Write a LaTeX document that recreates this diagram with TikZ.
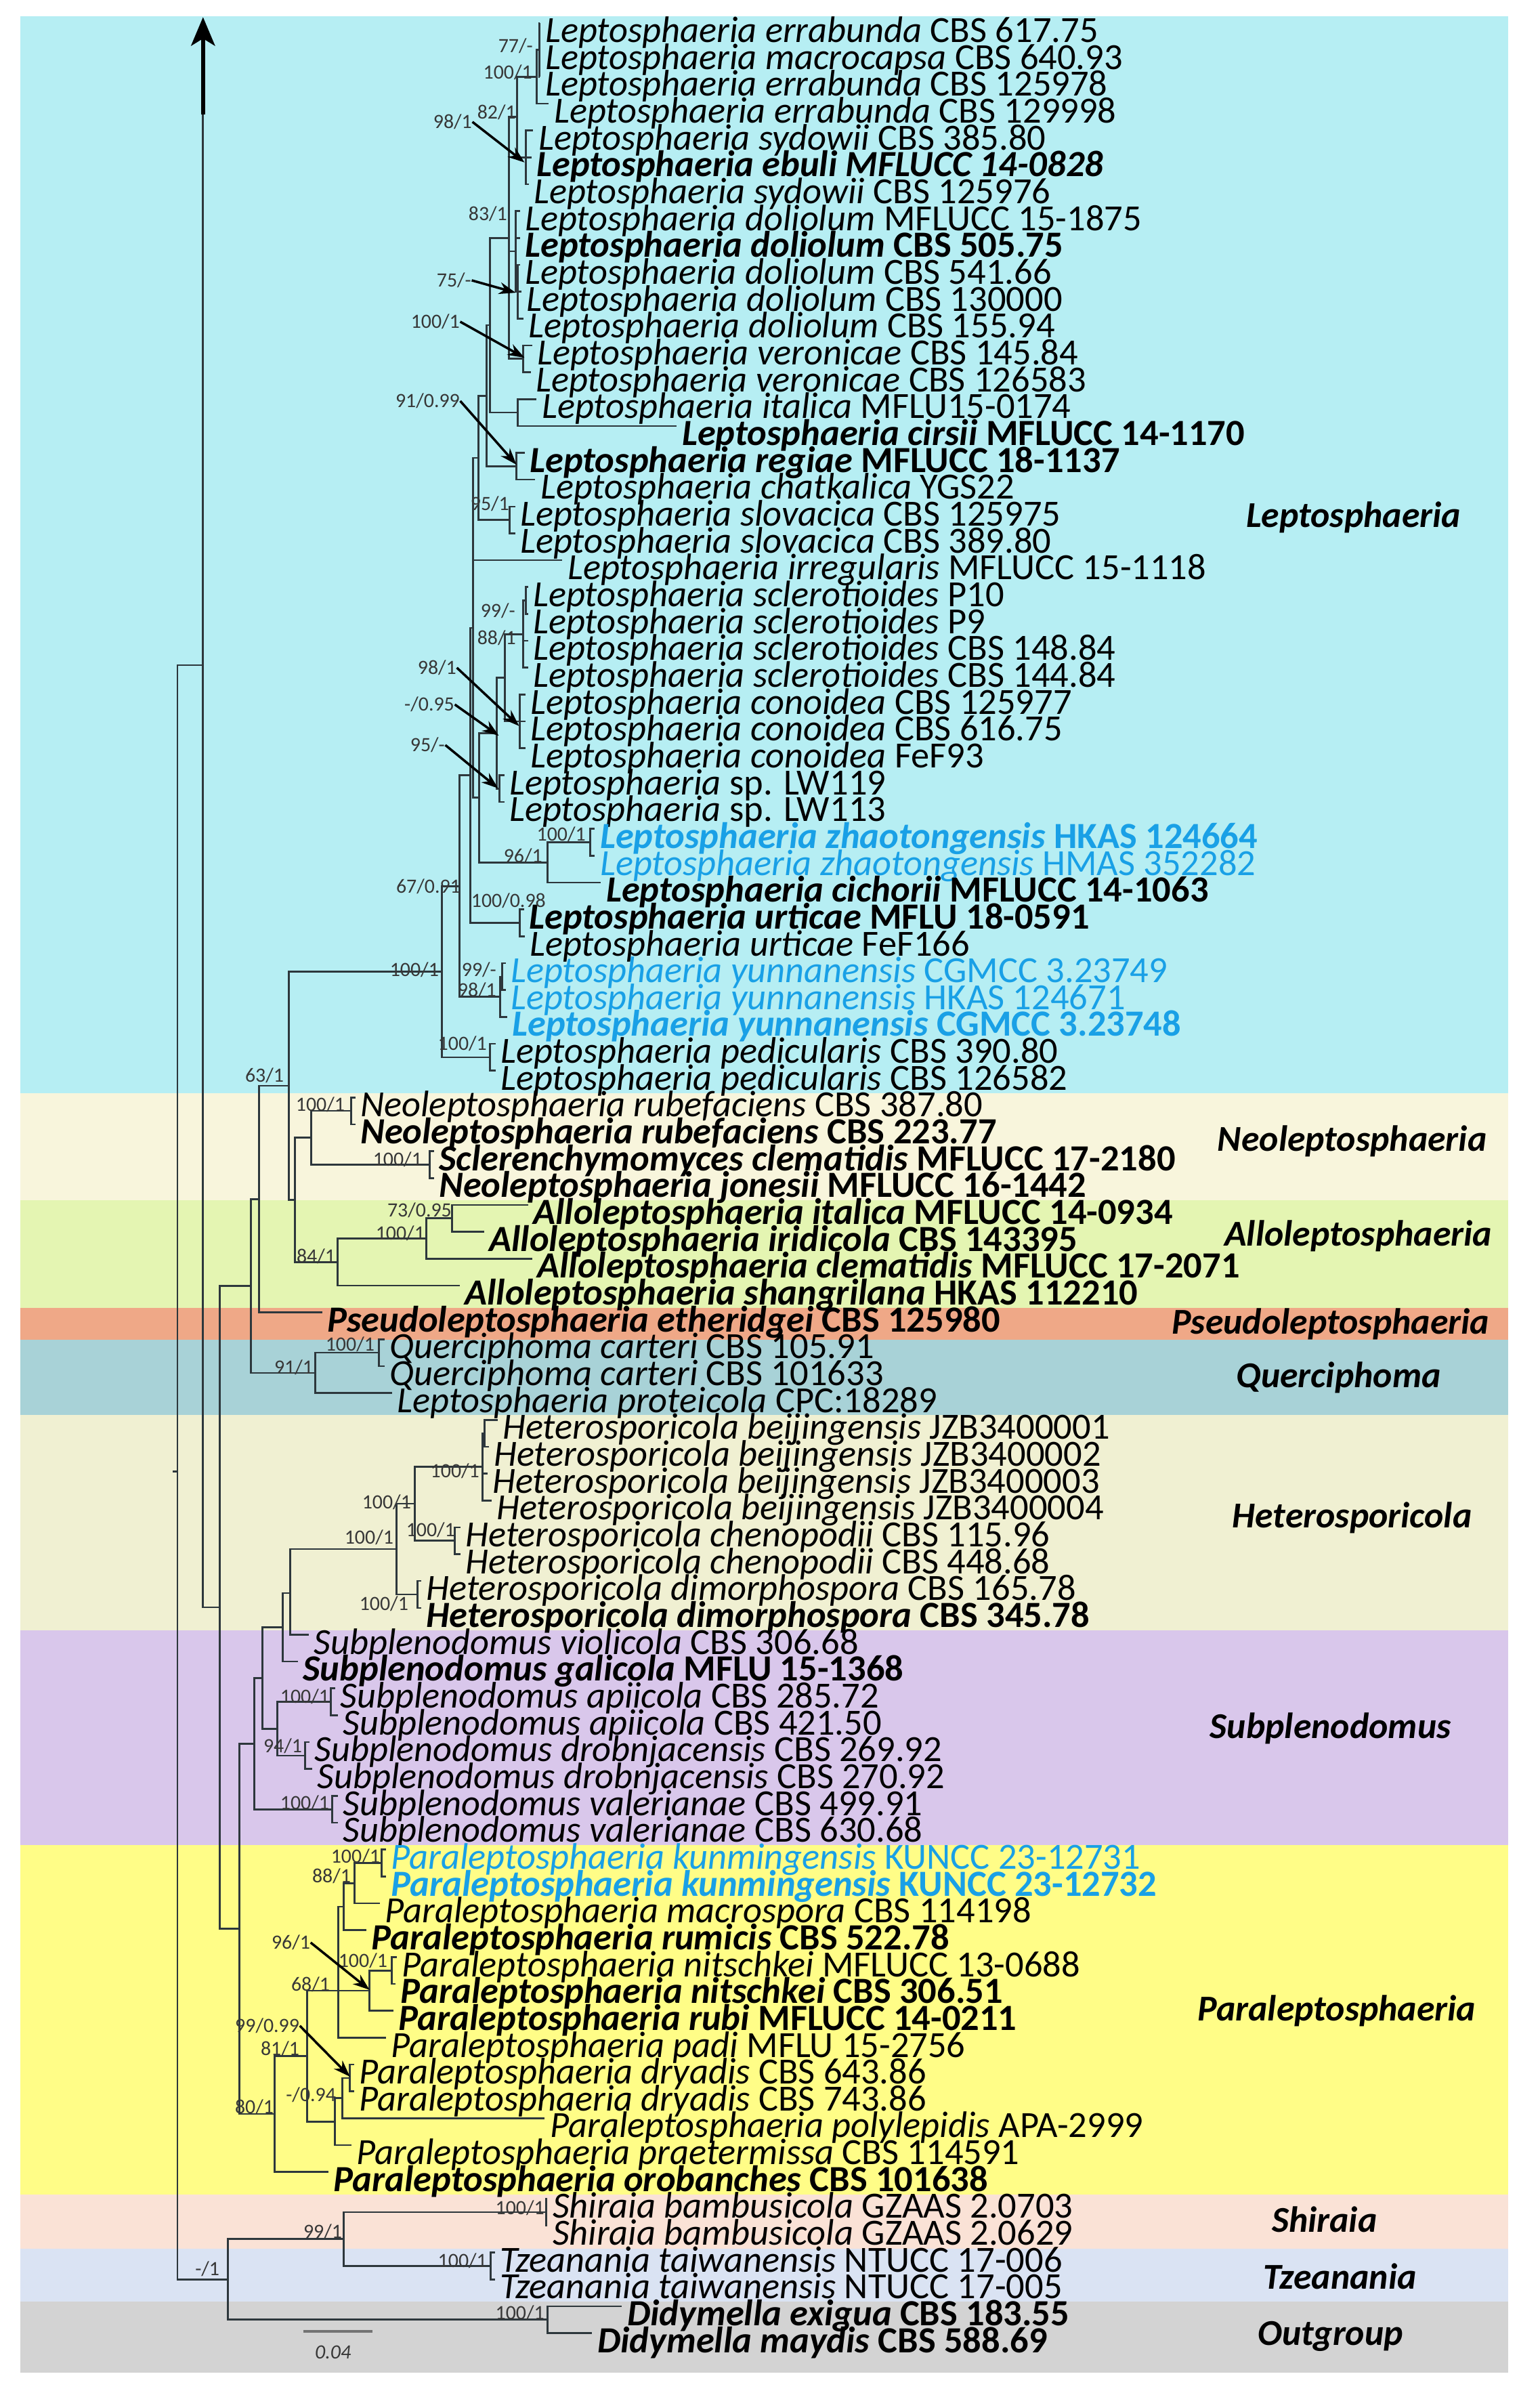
\documentclass[tikz,border=0pt]{standalone}
\usepackage{fontspec}
\setmainfont{Carlito}
\usetikzlibrary{arrows.meta}

\definecolor{cLep}{RGB}{182,238,243}
\definecolor{cNeo}{RGB}{248,245,220}
\definecolor{cAllo}{RGB}{228,245,178}
\definecolor{cPseudo}{RGB}{239,168,135}
\definecolor{cQuerc}{RGB}{168,210,215}
\definecolor{cHet}{RGB}{240,240,210}
\definecolor{cSub}{RGB}{217,199,235}
\definecolor{cPara}{RGB}{255,253,135}
\definecolor{cShi}{RGB}{250,226,214}
\definecolor{cTze}{RGB}{218,227,243}
\definecolor{cOut}{RGB}{211,211,211}
\definecolor{treeline}{RGB}{45,55,60}
\definecolor{newsp}{RGB}{25,160,230}
\definecolor{suptext}{RGB}{55,55,55}

\newcommand{\tx}[2]{\textit{#1} #2}

\tikzset{
  branch/.style={draw=treeline, line width=0.75pt},
  taxon/.style={anchor=west, inner xsep=2pt, inner ysep=0pt, text height=16.3pt, text depth=0pt, font=\fontsize{15.5}{15.5}\selectfont},
  taxonb/.style={taxon, font=\fontsize{15.5}{15.5}\selectfont\bfseries},
  novel/.style={taxon, text=newsp},
  novelb/.style={taxonb, text=newsp},
  sup/.style={anchor=east, inner sep=0pt, font=\fontsize{8.5}{8.5}\selectfont, text=suptext},
  pointer/.style={draw=black, line width=1pt, -{Stealth[length=7pt,width=5pt]}},
  clade/.style={font=\fontsize{15.3}{15.3}\selectfont\bfseries\itshape},
}

\begin{document}
\begin{tikzpicture}[x=0.01cm, y=-0.3966cm]
\useasboundingbox (0,0.1427) rectangle (2275,89.23);

% Clade bands
\foreach \top/\bot/\col in {0.75/40.83/cLep, 40.83/44.83/cNeo, 44.83/48.83/cAllo, 48.83/50.02/cPseudo,
  50.02/52.83/cQuerc, 52.83/60.83/cHet, 60.83/68.83/cSub, 68.83/81.85/cPara, 81.85/83.85/cShi,
  83.85/85.82/cTze, 85.82/88.47/cOut}
  \fill[\col] (30,\top) rectangle (2228,\bot);

% Clade names
\node[clade] (gLep) at (2000,19.41) {Leptosphaeria};
\node[clade] (gNeo) at (1998,42.63) {Neoleptosphaeria};
\node[clade] (gAllo) at (2007,46.16) {Alloleptosphaeria};
\node[clade] (gPseudo) at (1966,49.44) {Pseudoleptosphaeria};
\node[clade] (gQuerc) at (1978,51.43) {Querciphoma};
\node[clade] (gHet) at (1998,56.65) {Heterosporicola};
\node[clade] (gSub) at (1966,64.49) {Subplenodomus};
\node[clade] (gPara) at (1975,75.0) {Paraleptosphaeria};
\node[clade] (gShi) at (1957,82.77) {Shiraia};
\node[clade] (gTze) at (1980,84.89) {Tzeanania};
\node[clade] (gOut) at (1966,87.11) {Outgroup};

% Taxa
\node[taxon] (t1) at (798,1) {\tx{Leptosphaeria errabunda}{CBS 617.75}};
\node[taxon] (t2) at (798,2) {\tx{Leptosphaeria macrocapsa}{CBS 640.93}};
\node[taxon] (t3) at (798,3) {\tx{Leptosphaeria errabunda}{CBS 125978}};
\node[taxon] (t4) at (811,4) {\tx{Leptosphaeria errabunda}{CBS 129998}};
\node[taxon] (t5) at (788,5) {\tx{Leptosphaeria sydowii}{CBS 385.80}};
\node[taxonb] (t6) at (785,6) {\textit{Leptosphaeria ebuli MFLUCC 14-0828}};
\node[taxon] (t7) at (781,7) {\tx{Leptosphaeria sydowii}{CBS 125976}};
\node[taxon] (t8) at (768,8) {\tx{Leptosphaeria doliolum}{MFLUCC 15-1875}};
\node[taxonb] (t9) at (768,9) {\tx{Leptosphaeria doliolum}{CBS 505.75}};
\node[taxon] (t10) at (768,10) {\tx{Leptosphaeria doliolum}{CBS 541.66}};
\node[taxon] (t11) at (770,11) {\tx{Leptosphaeria doliolum}{CBS 130000}};
\node[taxon] (t12) at (773,12) {\tx{Leptosphaeria doliolum}{CBS 155.94}};
\node[taxon] (t13) at (786,13) {\tx{Leptosphaeria veronicae}{CBS 145.84}};
\node[taxon] (t14) at (784,14) {\tx{Leptosphaeria veronicae}{CBS 126583}};
\node[taxon] (t15) at (793,15) {\tx{Leptosphaeria italica}{MFLU15-0174}};
\node[taxonb] (t16) at (1000,16) {\tx{Leptosphaeria cirsii}{MFLUCC 14-1170}};
\node[taxonb] (t17) at (775,17) {\tx{Leptosphaeria regiae}{MFLUCC 18-1137}};
\node[taxon] (t18) at (791,18) {\tx{Leptosphaeria chatkalica}{YGS22}};
\node[taxon] (t19) at (761,19) {\tx{Leptosphaeria slovacica}{CBS 125975}};
\node[taxon] (t20) at (761,20) {\tx{Leptosphaeria slovacica}{CBS 389.80}};
\node[taxon] (t21) at (831,21) {\tx{Leptosphaeria irregularis}{MFLUCC 15-1118}};
\node[taxon] (t22) at (780,22) {\tx{Leptosphaeria sclerotioides}{P10}};
\node[taxon] (t23) at (780,23) {\tx{Leptosphaeria sclerotioides}{P9}};
\node[taxon] (t24) at (780,24) {\tx{Leptosphaeria sclerotioides}{CBS 148.84}};
\node[taxon] (t25) at (780,25) {\tx{Leptosphaeria sclerotioides}{CBS 144.84}};
\node[taxon] (t26) at (776,26) {\tx{Leptosphaeria conoidea}{CBS 125977}};
\node[taxon] (t27) at (776,27) {\tx{Leptosphaeria conoidea}{CBS 616.75}};
\node[taxon] (t28) at (776,28) {\tx{Leptosphaeria conoidea}{FeF93}};
\node[taxon] (t29) at (745,29) {\tx{Leptosphaeria}{sp. LW119}};
\node[taxon] (t30) at (745,30) {\tx{Leptosphaeria}{sp. LW113}};
\node[novelb] (t31) at (879,31) {\tx{Leptosphaeria zhaotongensis}{HKAS 124664}};
\node[novel] (t32) at (879,32) {\tx{Leptosphaeria zhaotongensis}{HMAS 352282}};
\node[taxonb] (t33) at (888,33) {\tx{Leptosphaeria cichorii}{MFLUCC 14-1063}};
\node[taxonb] (t34) at (774,34) {\tx{Leptosphaeria urticae}{MFLU 18-0591}};
\node[taxon] (t35) at (775,35) {\tx{Leptosphaeria urticae}{FeF166}};
\node[novel] (t36) at (747,36) {\tx{Leptosphaeria yunnanensis}{CGMCC 3.23749}};
\node[novel] (t37) at (747,37) {\tx{Leptosphaeria yunnanensis}{HKAS 124671}};
\node[novelb] (t38) at (749,38) {\tx{Leptosphaeria yunnanensis}{CGMCC 3.23748}};
\node[taxon] (t39) at (732,39) {\tx{Leptosphaeria pedicularis}{CBS 390.80}};
\node[taxon] (t40) at (732,40) {\tx{Leptosphaeria pedicularis}{CBS 126582}};
\node[taxon] (t41) at (525,41) {\tx{Neoleptosphaeria rubefaciens}{CBS 387.80}};
\node[taxonb] (t42) at (525,42) {\tx{Neoleptosphaeria rubefaciens}{CBS 223.77}};
\node[taxonb] (t43) at (641,43) {\tx{Sclerenchymomyces clematidis}{MFLUCC 17-2180}};
\node[taxonb] (t44) at (641,44) {\tx{Neoleptosphaeria jonesii}{MFLUCC 16-1442}};
\node[taxonb] (t45) at (780,45) {\tx{Alloleptosphaeria italica}{MFLUCC 14-0934}};
\node[taxonb] (t46) at (715,46) {\tx{Alloleptosphaeria iridicola}{CBS 143395}};
\node[taxonb] (t47) at (786,47) {\tx{Alloleptosphaeria clematidis}{MFLUCC 17-2071}};
\node[taxonb] (t48) at (679,48) {\tx{Alloleptosphaeria shangrilana}{HKAS 112210}};
\node[taxonb] (t49) at (476,49) {\tx{Pseudoleptosphaeria etheridgei}{CBS 125980}};
\node[taxon] (t50) at (568,50) {\tx{Querciphoma carteri}{CBS 105.91}};
\node[taxon] (t51) at (568,51) {\tx{Querciphoma carteri}{CBS 101633}};
\node[taxon] (t52) at (579,52) {\tx{Leptosphaeria proteicola}{CPC:18289}};
\node[taxon] (t53) at (735,53) {\tx{Heterosporicola beijingensis}{JZB3400001}};
\node[taxon] (t54) at (722,54) {\tx{Heterosporicola beijingensis}{JZB3400002}};
\node[taxon] (t55) at (720,55) {\tx{Heterosporicola beijingensis}{JZB3400003}};
\node[taxon] (t56) at (726,56) {\tx{Heterosporicola beijingensis}{JZB3400004}};
\node[taxon] (t57) at (680,57) {\tx{Heterosporicola chenopodii}{CBS 115.96}};
\node[taxon] (t58) at (680,58) {\tx{Heterosporicola chenopodii}{CBS 448.68}};
\node[taxon] (t59) at (622,59) {\tx{Heterosporicola dimorphospora}{CBS 165.78}};
\node[taxonb] (t60) at (622,60) {\tx{Heterosporicola dimorphospora}{CBS 345.78}};
\node[taxon] (t61) at (456,61) {\tx{Subplenodomus violicola}{CBS 306.68}};
\node[taxonb] (t62) at (440,62) {\tx{Subplenodomus galicola}{MFLU 15-1368}};
\node[taxon] (t63) at (495,63) {\tx{Subplenodomus apiicola}{CBS 285.72}};
\node[taxon] (t64) at (499,64) {\tx{Subplenodomus apiicola}{CBS 421.50}};
\node[taxon] (t65) at (457,65) {\tx{Subplenodomus drobnjacensis}{CBS 269.92}};
\node[taxon] (t66) at (461,66) {\tx{Subplenodomus drobnjacensis}{CBS 270.92}};
\node[taxon] (t67) at (499,67) {\tx{Subplenodomus valerianae}{CBS 499.91}};
\node[taxon] (t68) at (499,68) {\tx{Subplenodomus valerianae}{CBS 630.68}};
\node[novel] (t69) at (570,69) {\tx{Paraleptosphaeria kunmingensis}{KUNCC 23-12731}};
\node[novelb] (t70) at (570,70) {\tx{Paraleptosphaeria kunmingensis}{KUNCC 23-12732}};
\node[taxon] (t71) at (561,71) {\tx{Paraleptosphaeria macrospora}{CBS 114198}};
\node[taxonb] (t72) at (541,72) {\tx{Paraleptosphaeria rumicis}{CBS 522.78}};
\node[taxon] (t73) at (586,73) {\tx{Paraleptosphaeria nitschkei}{MFLUCC 13-0688}};
\node[taxonb] (t74) at (584,74) {\tx{Paraleptosphaeria nitschkei}{CBS 306.51}};
\node[taxonb] (t75) at (581,75) {\tx{Paraleptosphaeria rubi}{MFLUCC 14-0211}};
\node[taxon] (t76) at (570,76) {\tx{Paraleptosphaeria padi}{MFLU 15-2756}};
\node[taxon] (t77) at (523,77) {\tx{Paraleptosphaeria dryadis}{CBS 643.86}};
\node[taxon] (t78) at (523,78) {\tx{Paraleptosphaeria dryadis}{CBS 743.86}};
\node[taxon] (t79) at (805,79) {\tx{Paraleptosphaeria polylepidis}{APA-2999}};
\node[taxon] (t80) at (519,80) {\tx{Paraleptosphaeria praetermissa}{CBS 114591}};
\node[taxonb] (t81) at (485,81) {\tx{Paraleptosphaeria orobanches}{CBS 101638}};
\node[taxon] (t82) at (809,82) {\tx{Shiraia bambusicola}{GZAAS 2.0703}};
\node[taxon] (t83) at (809,83) {\tx{Shiraia bambusicola}{GZAAS 2.0629}};
\node[taxon] (t84) at (731,84) {\tx{Tzeanania taiwanensis}{NTUCC 17-006}};
\node[taxon] (t85) at (731,85) {\tx{Tzeanania taiwanensis}{NTUCC 17-005}};
\node[taxonb] (t86) at (919,86) {\tx{Didymella exigua}{CBS 183.55}};
\node[taxonb] (t87) at (875,87) {\tx{Didymella maydis}{CBS 588.69}};

% Internal nodes (x in px, y in rows)
\coordinate (n77) at (797,2);      \coordinate (nE100) at (793,3);
\coordinate (n98a) at (777,6);     \coordinate (n82) at (764,4.5);
\coordinate (n75) at (765,11);     \coordinate (nDol) at (762,9.5);
\coordinate (nVer) at (773,13.5);  \coordinate (n83) at (752,9);
\coordinate (nCir) at (765,15.5);  \coordinate (n725) at (724,12.25);
\coordinate (nReg) at (763,17.5);  \coordinate (n720) at (719,14.875);
\coordinate (nSlo) at (753,19.5);  \coordinate (n707) at (707,17.19);
\coordinate (n99s) at (777,22.5);  \coordinate (n88) at (773,23.75);
\coordinate (nCon) at (768,27);    \coordinate (n746) at (746,25.375);
\coordinate (nLW) at (738,29.5);   \coordinate (n734) at (734,27.44);
\coordinate (nZh) at (872,31.5);   \coordinate (n96) at (809,32.25);
\coordinate (n708) at (708,29.84); \coordinate (nA) at (699,23.52);
\coordinate (nUrt) at (768,34.5);  \coordinate (nB) at (695,29.01);
\coordinate (nY99) at (742,36.5);  \coordinate (nY98) at (739,37.25);
\coordinate (n679) at (679,33.13); \coordinate (nPed) at (724,39.5);
\coordinate (nLep) at (653,36.31);
\coordinate (nRub) at (519,41.5);  \coordinate (nScl) at (635,43.5);
\coordinate (nNeo) at (460,42.5);  \coordinate (n73) at (668,45.5);
\coordinate (nAl100) at (630,46.25); \coordinate (nAllo) at (499,47.125);
\coordinate (nB436) at (436,44.81); \coordinate (nA427) at (427,40.56);
\coordinate (n383) at (383,44.78); \coordinate (nQc) at (560,50.5);
\coordinate (nQue) at (466,51.25); \coordinate (n371) at (371,48.01);
\coordinate (nBei2) at (716,53.5); \coordinate (nBei) at (713,54.75);
\coordinate (nChe) at (672,57.5);  \coordinate (nHet2) at (613,56.125);
\coordinate (nDim) at (617,59.5);  \coordinate (nHet) at (586,57.81);
\coordinate (n429) at (429,59.45); \coordinate (n418) at (418,60.72);
\coordinate (nApi) at (489,63.5);  \coordinate (nDro) at (451,65.5);
\coordinate (n410) at (410,64.5);  \coordinate (n388) at (388,62.61);
\coordinate (nVal) at (491,67.5);  \coordinate (n376) at (376,65.06);
\coordinate (nKun) at (564,69.5);  \coordinate (nK88) at (524,70.25);
\coordinate (n508) at (508,71.125); \coordinate (nNitC) at (579,73.5);
\coordinate (n96p) at (546,74.25); \coordinate (n500) at (500,74.25);
\coordinate (nDry) at (517,77.5);  \coordinate (n506) at (506,78.25);
\coordinate (n495) at (495,79.125); \coordinate (n454) at (454,76.69);
\coordinate (n406) at (406,78.84); \coordinate (n354) at (354,71.95);
\coordinate (n325) at (325,59.98); \coordinate (n300) at (300,24.9);
\coordinate (nShi) at (807,82.5);  \coordinate (nTze) at (725,84.5);
\coordinate (n99o) at (508,83.5);  \coordinate (nDid) at (809,86.5);
\coordinate (n337) at (337,85.0);  \coordinate (root) at (262,54.93);
\coordinate (rootstub) at (255,54.93);
\coordinate (cut) at (300,4.4);    \coordinate (cuttip) at (300,0.78);

% Branches
\foreach \p/\c in {n77/t1, n77/t2, n77/t3, nE100/n77, nE100/t4, n98a/t5, n98a/t6, n98a/t7,
  n82/nE100, n82/n98a, n75/t10, n75/t11, n75/t12, nDol/t8, nDol/t9, nDol/n75,
  nVer/t13, nVer/t14, n83/n82, n83/nDol, n83/nVer, nCir/t15, nCir/t16, n725/n83, n725/nCir,
  nReg/t17, nReg/t18, n720/n725, n720/nReg, nSlo/t19, nSlo/t20, n707/n720, n707/nSlo,
  n99s/t22, n99s/t23, n88/n99s, n88/t24, n88/t25, nCon/t26, nCon/t27, nCon/t28,
  n746/n88, n746/nCon, nLW/t29, nLW/t30, n734/n746, n734/nLW,
  nZh/t31, nZh/t32, n96/nZh, n96/t33, n708/n734, n708/n96, nA/n707, nA/t21, nA/n708,
  nUrt/t34, nUrt/t35, nB/nA, nB/nUrt, nY99/t36, nY99/t37, nY98/nY99, nY98/t38,
  n679/nB, n679/nY98, nPed/t39, nPed/t40, nLep/n679, nLep/nPed}
  \draw[branch] (\p) |- (\c);
\foreach \p/\c in {nRub/t41, nRub/t42, nScl/t43, nScl/t44, nNeo/nRub, nNeo/nScl,
  n73/t45, n73/t46, nAl100/n73, nAl100/t47, nAllo/nAl100, nAllo/t48,
  nB436/nNeo, nB436/nAllo, nA427/nLep, nA427/nB436, n383/nA427, n383/t49,
  nQc/t50, nQc/t51, nQue/nQc, nQue/t52, n371/n383, n371/nQue,
  nBei2/t53, nBei2/t54, nBei/nBei2, nBei/t55, nBei/t56, nChe/t57, nChe/t58,
  nHet2/nBei, nHet2/nChe, nDim/t59, nDim/t60, nHet/nHet2, nHet/nDim,
  n429/nHet, n429/t61, n418/n429, n418/t62, nApi/t63, nApi/t64, nDro/t65, nDro/t66,
  n410/nApi, n410/nDro, n388/n418, n388/n410, nVal/t67, nVal/t68, n376/n388, n376/nVal}
  \draw[branch] (\p) |- (\c);
\foreach \p/\c in {nKun/t69, nKun/t70, nK88/nKun, nK88/t71, n508/nK88, n508/t72,
  nNitC/t73, nNitC/t74, n96p/nNitC, n96p/t75, n500/n508, n500/n96p, n500/t76,
  nDry/t77, nDry/t78, n506/nDry, n506/t79, n495/n506, n495/t80,
  n454/n500, n454/n495, n406/n454, n406/t81, n354/n376, n354/n406,
  n325/n371, n325/n354, n300/n325, nShi/t82, nShi/t83, nTze/t84, nTze/t85,
  n99o/nShi, n99o/nTze, nDid/t86, nDid/t87, n337/n99o, n337/nDid, root/n300, root/n337}
  \draw[branch] (\p) |- (\c);
\draw[branch] (rootstub) -- (root);
\draw[branch] (n300) -- (cut);
\draw[line width=1.8pt, -{Stealth[length=12pt,width=10pt,inset=3pt]}] (cut) -- (cuttip);

% Support values
\node[sup] (l77) at (788,1.86) {77/-};
\node[sup] (lE100) at (787,2.84) {100/1};
\node[sup] (l82) at (763,4.33) {82/1};
\node[sup] (l98a) at (698,4.68) {98/1};
\node[sup] (l83) at (750,8.11) {83/1};
\node[sup] (l75) at (697,10.58) {75/-};
\node[sup] (lVer) at (680,12.12) {100/1};
\node[sup] (lReg) at (680,15.07) {91/0.99};
\node[sup] (lSlo) at (753,18.9) {95/1};
\node[sup] (l99s) at (762,22.89) {99/-};
\node[sup] (l88) at (763,23.9) {88/1};
\node[sup] (lCon) at (675,25.0) {98/1};
\node[sup] (l734) at (672,26.37) {-/0.95};
\node[sup] (lLW) at (658,27.88) {95/-};
\node[sup] (lZh) at (866,31.2) {100/1};
\node[sup] (l96) at (802,32.0) {96/1};
\node[sup] (l679) at (681,33.15) {67/0.91};
\node[sup] (lUrt) at (807,33.68) {100/0.98};
\node[sup] (lLep) at (649,36.25) {100/1};
\node[sup] (lY99) at (734,36.25) {99/-};
\node[sup] (lY98) at (734,37.0) {98/1};
\node[sup] (lPed) at (720,39.0) {100/1};
\node[sup] (l63) at (420,40.18) {63/1};
\node[sup] (lRub) at (510,41.27) {100/1};
\node[sup] (lScl) at (624,43.31) {100/1};
\node[sup] (l73) at (668,45.2) {73/0.95};
\node[sup] (lAl100) at (628,46.06) {100/1};
\node[sup] (lAllo) at (496,46.92) {84/1};
\node[sup] (lQc) at (554,50.19) {100/1};
\node[sup] (lQue) at (463,51.05) {91/1};
\node[sup] (lBei) at (709,54.91) {100/1};
\node[sup] (lHet2) at (608,56.07) {100/1};
\node[sup] (lHet) at (582,57.38) {100/1};
\node[sup] (lChe) at (673,57.1) {100/1};
\node[sup] (lDim) at (604,59.85) {100/1};
\node[sup] (lApi) at (487,63.3) {100/1};
\node[sup] (lDro) at (447,65.15) {94/1};
\node[sup] (lVal) at (487,67.26) {100/1};
\node[sup] (lKun) at (562,69.26) {100/1};
\node[sup] (lK88) at (519,69.99) {88/1};
\node[sup] (l96p) at (459,72.46) {96/1};
\node[sup] (lNitC) at (573,73.14) {100/1};
\node[sup] (l500) at (488,74.02) {68/1};
\node[sup] (lDry) at (443,75.56) {99/0.99};
\node[sup] (l454) at (443,76.42) {81/1};
\node[sup] (l495) at (497,78.13) {-/0.94};
\node[sup] (l406) at (405,78.59) {80/1};
\node[sup] (lShi) at (805,82.34) {100/1};
\node[sup] (l99o) at (506,83.22) {99/1};
\node[sup] (lTze) at (720,84.31) {100/1};
\node[sup] (l337) at (325,84.61) {-/1};
\node[sup] (lDid) at (805,86.25) {100/1};

% Pointers to short internodes
\coordinate (p98a) at (775,6.19);   \coordinate (p75) at (762,11.04);
\coordinate (pVer) at (775,13.46);  \coordinate (pReg) at (763,17.44);
\coordinate (pCon) at (767,27.17);  \coordinate (p734) at (737,27.53);
\coordinate (pLW) at (736,29.49);   \coordinate (p96p) at (546,74.22);
\coordinate (pDry) at (517,77.45);
\foreach \l/\p in {l98a/p98a, l75/p75, lVer/pVer, lReg/pReg, lCon/pCon, l734/p734, lLW/pLW, l96p/p96p, lDry/pDry}
  \draw[pointer] (\l.east) -- (\p);

% Scale bar
\coordinate (sbL) at (448,86.93);
\coordinate (sbR) at (550,86.93);
\draw[line width=1.2pt, draw=black!55] (sbL) -- (sbR);
\node[font=\fontsize{8.5}{8.5}\selectfont\itshape, text=suptext] (sbtext) at (492,87.71) {0.04};
\end{tikzpicture}
\end{document}
